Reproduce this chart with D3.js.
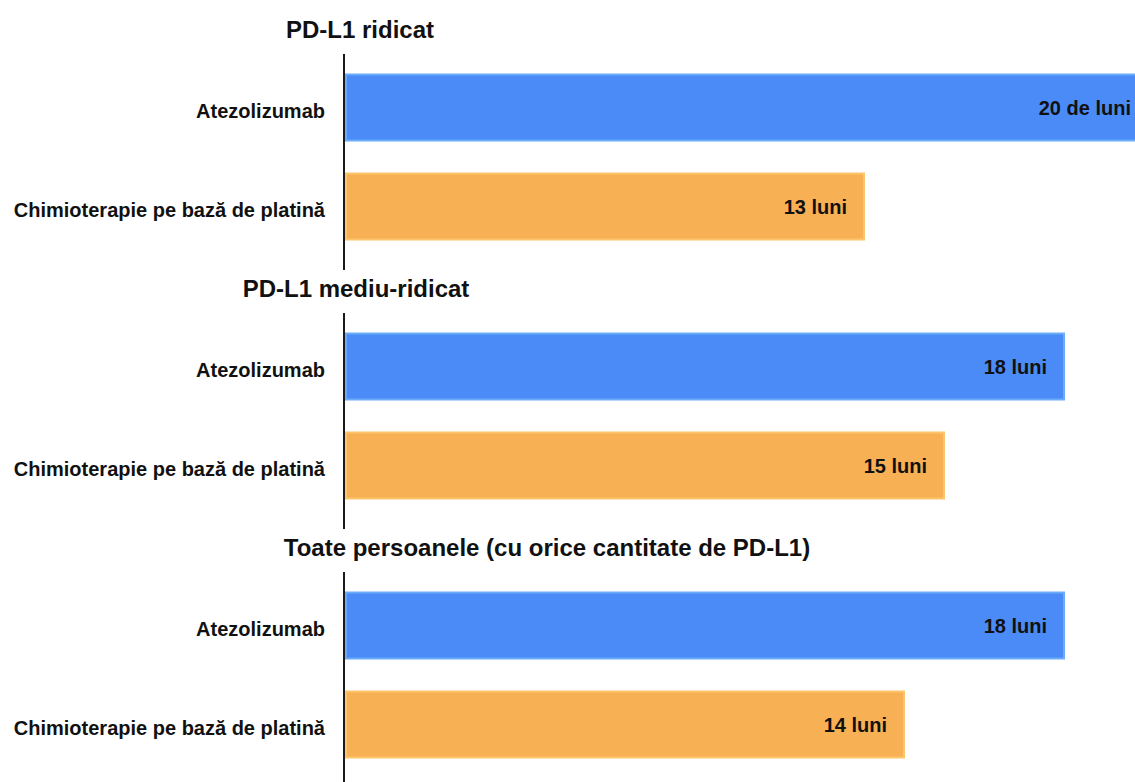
<!DOCTYPE html>
<html>
<head>
<meta charset="utf-8">
<script src="https://cdn.jsdelivr.net/npm/d3@7"></script>
<style>
  html, body { margin: 0; padding: 0; background: #fff; }
  svg { display: block; }
  text { font-family: "Liberation Sans", Arial, sans-serif; font-weight: bold; fill: #111; }
</style>
</head>
<body>
<svg id="chart" width="1135" height="782"></svg>
<script>
// Median overall survival by PD-L1 level (months)
const groups = ["PD-L1 ridicat", "PD-L1 mediu-ridicat", "Toate persoanele (cu orice cantitate de PD-L1)"];
const treatments = ["Atezolizumab", "Chimioterapie pe bază de platină"];
const atezolizumabMonths = [20, 18, 18];
const chemoMonths = [13, 15, 14];
const valueLabels = [
  ["20 de luni", "13 luni"],
  ["18 luni", "15 luni"],
  ["18 luni", "14 luni"]
];

const W = 1135, H = 782;
const axisX = 344;
const titleX = [360, 356, 547];

const svg = d3.select("#chart");

// horizontal scale: months -> pixels from the axis line
const x = d3.scaleLinear().domain([0, 1]).range([axisX, axisX + 40]);

// vertical placement of each group block
const yGroup = d3.scaleBand().domain(groups).range([54, 54 + 3 * 259]).paddingInner(0).paddingOuter(0);
// vertical placement of the two bars inside a group
const yBar = d3.scaleBand().domain(treatments).range([20.5, 185.5]).paddingInner(1 / 3).paddingOuter(0);

const fills = { "Atezolizumab": "#4a8bf7", "Chimioterapie pe bază de platină": "#f8b055" };
const strokes = { "Atezolizumab": "#6aabfa", "Chimioterapie pe bază de platină": "#fdc46c" };

const rows = groups.map((g, i) => ({
  group: g,
  title: titleX[i],
  bars: treatments.map((t, j) => ({
    treatment: t,
    value: j === 0 ? atezolizumabMonths[i] : chemoMonths[i],
    label: valueLabels[i][j]
  }))
}));

const gSel = svg.selectAll("g.group")
  .data(rows)
  .join("g")
  .attr("class", "group")
  .attr("transform", d => `translate(0,${yGroup(d.group)})`);

// axis line segment for each block
gSel.append("line")
  .attr("x1", axisX).attr("x2", axisX)
  .attr("y1", 0)
  .attr("y2", (d, i) => i === groups.length - 1 ? H : 216)
  .attr("stroke", "#1a1a1a")
  .attr("stroke-width", 2);

// group heading
gSel.append("text")
  .attr("x", d => d.title)
  .attr("y", -25)
  .attr("text-anchor", "middle")
  .attr("dominant-baseline", "central")
  .style("font-size", "24px")
  .text(d => d.group);

const barSel = gSel.selectAll("g.bar")
  .data(d => d.bars)
  .join("g")
  .attr("class", "bar");

barSel.append("rect")
  .attr("x", axisX + 2)
  .attr("y", d => yBar(d.treatment))
  .attr("width", d => x(d.value) - axisX - 2)
  .attr("height", yBar.bandwidth())
  .attr("fill", d => fills[d.treatment])
  .attr("stroke", d => strokes[d.treatment])
  .attr("stroke-width", 2);

// treatment names to the left of the axis
barSel.append("text")
  .attr("x", axisX - 19)
  .attr("y", d => yBar(d.treatment) + yBar.bandwidth() / 2 + 3)
  .attr("text-anchor", "end")
  .attr("dominant-baseline", "central")
  .style("font-size", "20px")
  .text(d => d.treatment);

// value labels inside the bar ends (kept inside the view when a bar runs past the edge)
barSel.append("text")
  .attr("x", d => x(d.value) > W ? W - 4 : x(d.value) - 17)
  .attr("y", d => yBar(d.treatment) + yBar.bandwidth() / 2)
  .attr("text-anchor", "end")
  .attr("dominant-baseline", "central")
  .style("font-size", "20px")
  .text(d => d.label);
</script>
</body>
</html>
